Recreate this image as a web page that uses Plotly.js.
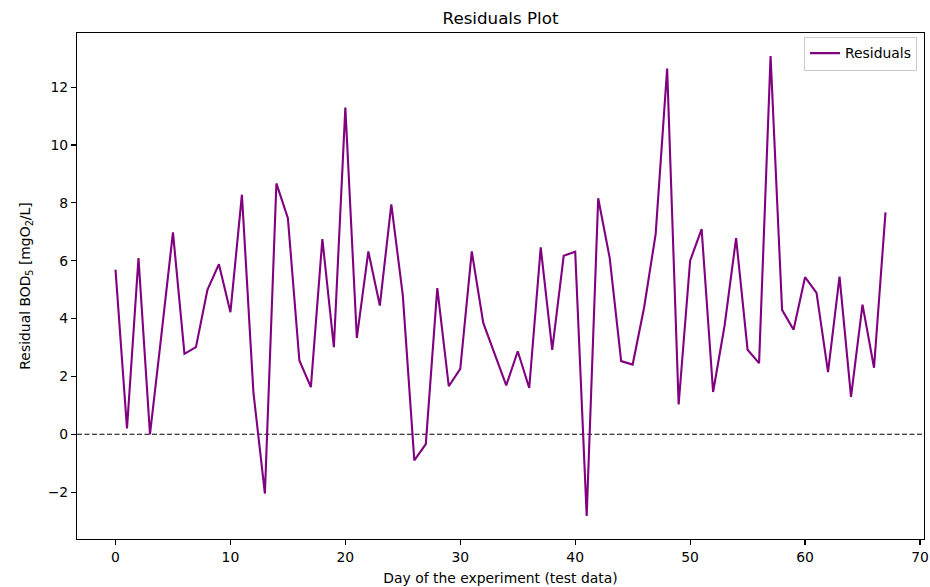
<!DOCTYPE html>
<html>
<head>
<meta charset="utf-8">
<script src="https://cdn.plot.ly/plotly-3.0.1.min.js"></script>
<style>
html,body{margin:0;padding:0;background:#fff;}
#chart{width:930px;height:587px;}
</style>
</head>
<body>
<div id="chart"></div>
<script>
// Day index of test data
const days = [];
for (let i = 0; i < 68; i++) days.push(i);

// Residual values
const residuals = [
  5.69, 0.20, 6.09, 0.00, 3.45, 6.98, 2.78, 3.01, 4.99, 5.88,
  4.22, 8.28, 1.45, -2.05, 8.67, 7.47, 2.55, 1.63, 6.75, 3.01,
  11.29, 3.33, 6.32, 4.45, 7.95, 4.80, -0.90, -0.34, 5.05, 1.66,
  2.26, 6.32, 3.85, 2.75, 1.69, 2.87, 1.60, 6.46, 2.92, 6.17,
  6.31, -2.82, 8.16, 6.10, 2.53, 2.41, 4.39, 6.92, 12.64, 1.03,
  6.00, 7.09, 1.46, 3.76, 6.78, 2.92, 2.46, 13.07, 4.30, 3.61,
  5.43, 4.89, 2.15, 5.45, 1.29, 4.48, 2.30, 7.67
];

const yTicks = [-2, 0, 2, 4, 6, 8, 10, 12];
const xTicks = [0, 10, 20, 30, 40, 50, 60, 70];

const font = "DejaVu Sans, sans-serif";

const trace = {
  x: days,
  y: residuals,
  type: "scatter",
  mode: "lines",
  name: "Residuals",
  line: {color: "#800080", width: 2.1}
};

const layout = {
  width: 930,
  height: 587,
  margin: {l: 77, r: 6, t: 33, b: 48},
  paper_bgcolor: "#ffffff",
  plot_bgcolor: "#ffffff",
  font: {family: font, size: 13.9, color: "#000"},
  title: {
    text: "Residuals Plot",
    font: {family: font, size: 16.7, color: "#000"},
    x: 0.5, xref: "paper", xanchor: "center",
    y: 1 - 18/587, yref: "container", yanchor: "middle"
  },
  xaxis: {
    range: [-3.35, 70.35],
    tickvals: xTicks,
    ticktext: xTicks.map(String),
    showgrid: false, zeroline: false,
    showline: true, mirror: true, linecolor: "#000", linewidth: 1.1,
    ticks: "outside", ticklen: 5, tickwidth: 1.1, tickcolor: "#000",
    tickfont: {family: font, size: 13.9, color: "#000"},
    title: {text: "Day of the experiment (test data)", font: {family: font, size: 13.9, color: "#000"}, standoff: 9}
  },
  yaxis: {
    range: [-3.62, 13.87],
    tickvals: yTicks,
    ticktext: yTicks.map(v => v < 0 ? "\u2212" + Math.abs(v) : String(v)),
    showgrid: false, zeroline: false,
    showline: true, mirror: true, linecolor: "#000", linewidth: 1.1,
    ticks: "outside", ticklen: 5, tickwidth: 1.1, tickcolor: "#000",
    tickfont: {family: font, size: 13.9, color: "#000"},
    title: {text: "Residual BOD<sub>5</sub> [mgO<sub>2</sub>/L]", font: {family: font, size: 13.9, color: "#000"}, standoff: 13}
  },
  shapes: [{
    type: "line", xref: "paper", x0: 0, x1: 1, yref: "y", y0: 0, y1: 0,
    line: {color: "#000", width: 1.2, dash: "5px,2.5px"},
    layer: "below"
  }],
  showlegend: true,
  legend: {
    x: 0.9917, xanchor: "right",
    y: 0.993, yanchor: "top",
    bgcolor: "rgba(255,255,255,0.8)",
    bordercolor: "#cccccc", borderwidth: 1,
    font: {family: font, size: 13.9, color: "#000"},
    itemwidth: 30,
    entrywidth: 118, entrywidthmode: "pixels",
    tracegroupgap: 0
  }
};

Plotly.newPlot("chart", [trace], layout, {displayModeBar: false, staticPlot: true});
</script>
</body>
</html>
